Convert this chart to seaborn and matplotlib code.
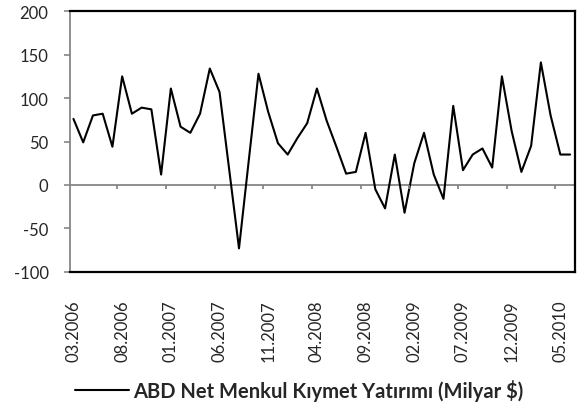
import numpy as np
import pandas as pd
import matplotlib
matplotlib.use("Agg")
import matplotlib.pyplot as plt
import seaborn as sns

# ── Data (monthly, 03.2006 – 06.2010) ─────────────────────────────────────
months = pd.date_range("2006-03-01", periods=52, freq="MS").strftime("%m.%Y").tolist()
values = [
    76, 49, 80, 82, 44, 125, 82, 89, 87, 12,
    111, 67, 60, 82, 134, 107, 17, -73, 28, 128,
    84, 48, 35, 54, 71, 111, 74, 44, 13, 15,
    60, -5, -27, 35, -32, 25, 60, 12, -16, 91,
    17, 35, 42, 20, 125, 62, 15, 45, 141, 80,
    35, 35,
]
series_name = "ABD Net Menkul Kıymet Yatırımı (Milyar $)"
y_ticks = [-100, -50, 0, 50, 100, 150, 200]

df = pd.DataFrame({"idx": np.arange(len(values)), "month": months, "value": values})

sns.set_style("white")
plt.rcParams["font.family"] = ["Lato", "DejaVu Sans"]

fig = plt.figure(figsize=(5.79, 4.06), dpi=100)
ax = fig.add_axes([0.121, 0.328, 0.872, 0.642])

sns.lineplot(data=df, x="idx", y="value", color="black", linewidth=1.5,
             ax=ax, label=series_name, legend=False)

ax.set_xlim(-0.35, len(values) - 0.5)
ax.set_ylim(-100, 200)

# zero line acting as the category axis, with ticks between categories
grey = "#868686"
ax.axhline(0, color=grey, linewidth=1.3, zorder=1)
ax.vlines(np.arange(4.5, len(values), 5), -4.5, 0, color=grey, linewidth=1.3)

# axis labels
label_pos = np.arange(0, len(values), 5)
ax.set_xticks(label_pos)
ax.set_xticklabels([months[i] for i in label_pos], rotation=90, fontsize=12)
ax.tick_params(axis="x", length=0, pad=20)
ax.set_yticks(y_ticks)
ax.set_yticklabels([str(v) for v in y_ticks], fontsize=12)
ax.tick_params(axis="y", length=4.5, width=1.2, color=grey, direction="out", pad=11, left=True)
ax.set_xlabel("")
ax.set_ylabel("")

for side in ["top", "right", "bottom"]:
    ax.spines[side].set_color("black")
    ax.spines[side].set_linewidth(1.6)
ax.spines["left"].set_color(grey)
ax.spines["left"].set_linewidth(1.3)

handles, labels = ax.get_legend_handles_labels()
leg = fig.legend(handles, labels, loc="center", bbox_to_anchor=(0.517, 0.038),
                 frameon=False, handlelength=2.7, handletextpad=0.2,
                 borderpad=0, borderaxespad=0,
                 prop={"weight": "bold", "size": 14.5})

fig.savefig("out.png", dpi=100)
